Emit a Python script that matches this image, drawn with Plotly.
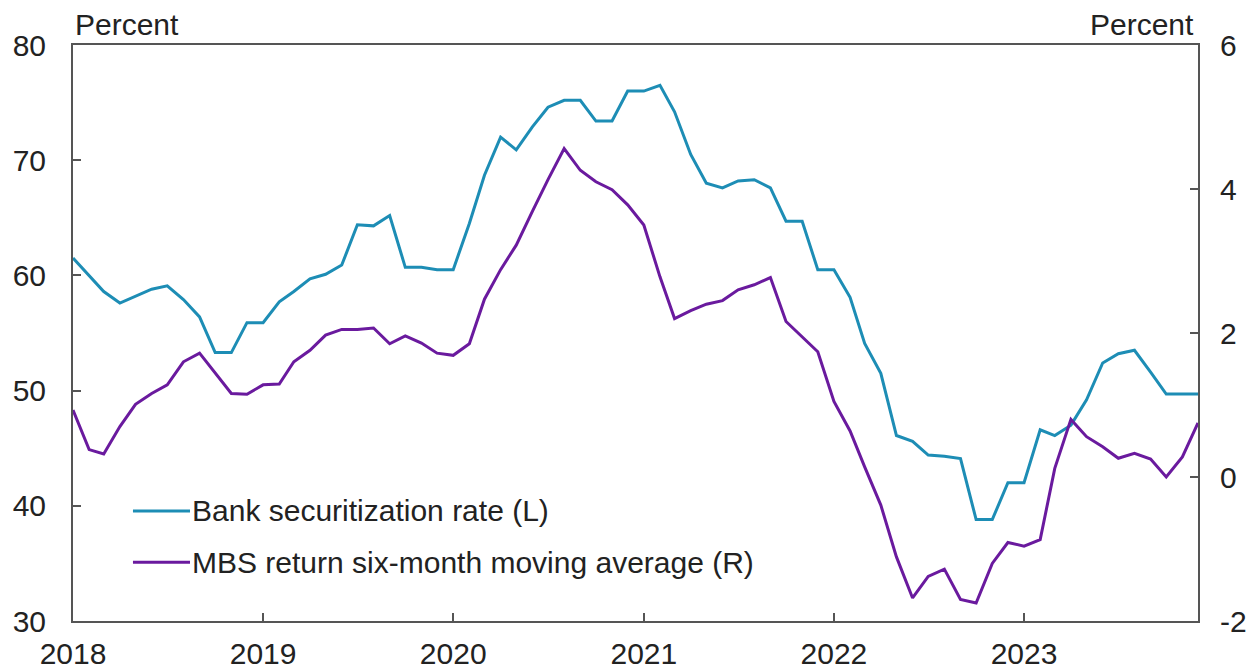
import pandas as pd
import plotly.graph_objects as go

months = pd.date_range("2018-01-01", "2023-12-01", freq="MS").strftime("%Y-%m-%d").tolist()

bank_securitization_rate = [
    61.5, 60.0, 58.6, 57.6, 58.2, 58.8, 59.1, 57.9, 56.4, 53.3, 53.3, 55.9,
    55.9, 57.7, 58.6, 59.7, 60.1, 60.9, 64.4, 64.3, 65.2, 60.7, 60.7, 60.5,
    60.5, 64.5, 68.7, 72.0, 70.9, 72.9, 74.6, 75.2, 75.2, 73.4, 73.4, 76.0,
    76.0, 76.5, 74.2, 70.5, 68.0, 67.6, 68.2, 68.3, 67.6, 64.7, 64.7, 60.5,
    60.5, 58.1, 54.1, 51.5, 46.1, 45.6, 44.4, 44.3, 44.1, 38.8, 38.8, 42.0,
    42.0, 46.6, 46.1, 47.0, 49.2, 52.4, 53.2, 53.5, 51.6, 49.7, 49.7, 49.7,
]

mbs_return_6m_ma = [
    0.93, 0.38, 0.32, 0.70, 1.01, 1.16, 1.28, 1.60, 1.72, 1.44, 1.16, 1.15,
    1.28, 1.29, 1.60, 1.76, 1.97, 2.05, 2.05, 2.07, 1.85, 1.96, 1.86, 1.72,
    1.69, 1.85, 2.47, 2.88, 3.22, 3.69, 4.13, 4.56, 4.26, 4.10, 3.99, 3.78,
    3.50, 2.78, 2.20, 2.31, 2.40, 2.45, 2.60, 2.67, 2.77, 2.16, 1.95, 1.74,
    1.05, 0.64, 0.14, -0.39, -1.11, -1.68, -1.38, -1.28, -1.70, -1.75, -1.20, -0.91,
    -0.96, -0.87, 0.12, 0.80, 0.56, 0.42, 0.26, 0.33, 0.25, 0.00, 0.28, 0.75,
]

series_names = ["Bank securitization rate (L)", "MBS return six-month moving average (R)"]
series_colors = ["#1d8db5", "#6a1a9e"]

left_ticks = [30, 40, 50, 60, 70, 80]
left_labels = ["30", "40", "50", "60", "70", "80"]
right_ticks = [-2, 0, 2, 4, 6]
right_labels = ["-2", "0", "2", "4", "6"]
year_ticks = ["2018-01-01", "2019-01-01", "2020-01-01", "2021-01-01", "2022-01-01", "2023-01-01"]
year_labels = ["2018", "2019", "2020", "2021", "2022", "2023"]

FONT = "Liberation Sans, Arial, sans-serif"
TXT = "#222222"
AX = "#555555"
FS = 30

fig = go.Figure()
fig.add_trace(go.Scatter(x=months, y=bank_securitization_rate, mode="lines",
                         name=series_names[0], line=dict(color=series_colors[0], width=3),
                         yaxis="y", showlegend=False))
fig.add_trace(go.Scatter(x=months, y=mbs_return_6m_ma, mode="lines",
                         name=series_names[1], line=dict(color=series_colors[1], width=3),
                         yaxis="y2", showlegend=False))

# custom legend (sample line + label)
legend_y = [0.191, 0.102]
for name, color, ly in zip(series_names, series_colors, legend_y):
    fig.add_shape(type="line", xref="paper", yref="paper", x0=0.0533, x1=0.104,
                  y0=ly, y1=ly, line=dict(color=color, width=3))
    fig.add_annotation(xref="paper", yref="paper", x=0.104, y=ly, text=name,
                       showarrow=False, xanchor="left", yanchor="middle",
                       font=dict(family=FONT, size=FS, color=TXT))

fig.add_annotation(xref="paper", yref="paper", x=0.0, y=1.035, text="Percent",
                   showarrow=False, xanchor="left", yanchor="middle",
                   font=dict(family=FONT, size=FS, color=TXT))
fig.add_annotation(xref="paper", yref="paper", x=0.9983, y=1.035, text="Percent",
                   showarrow=False, xanchor="right", yanchor="middle",
                   font=dict(family=FONT, size=FS, color=TXT))

fig.update_layout(
    width=1253, height=670,
    margin=dict(l=73, r=55, t=45, b=49, autoexpand=False),
    paper_bgcolor="white", plot_bgcolor="white",
    font=dict(family=FONT, size=FS, color=TXT),
    hovermode=False,
    xaxis=dict(type="date", range=[months[0], months[-1]],
               tickvals=year_ticks, ticktext=year_labels,
               ticks="inside", ticklen=8, tickwidth=1.5, tickcolor=AX,
               showline=True, linecolor=AX, linewidth=2, mirror=True,
               showgrid=False, zeroline=False, ticklabelstandoff=5, automargin=False,
               tickfont=dict(family=FONT, size=FS, color=TXT)),
    yaxis=dict(range=[30, 80], tickvals=left_ticks, ticktext=left_labels,
               ticks="inside", ticklen=8, tickwidth=1.5, tickcolor=AX,
               showline=True, linecolor=AX, linewidth=2,
               showgrid=False, zeroline=False, ticklabelstandoff=19, automargin=False,
               tickfont=dict(family=FONT, size=FS, color=TXT)),
    yaxis2=dict(range=[-2, 6], tickvals=right_ticks, ticktext=right_labels,
                overlaying="y", side="right",
                ticks="inside", ticklen=8, tickwidth=1.5, tickcolor=AX,
                showline=True, linecolor=AX, linewidth=2,
                showgrid=False, zeroline=False, ticklabelstandoff=14, automargin=False,
                tickfont=dict(family=FONT, size=FS, color=TXT)),
)

fig.write_html("out.html", config={"displayModeBar": False},
               post_script="document.body.style.margin='0';document.body.style.overflow='hidden';")
